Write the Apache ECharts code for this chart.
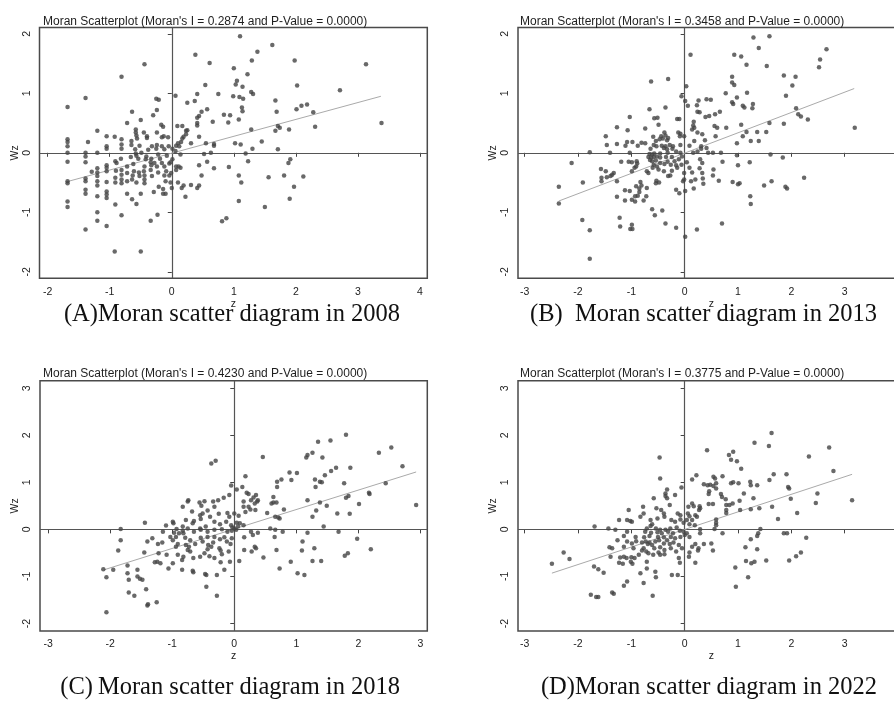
<!DOCTYPE html>
<html><head><meta charset="utf-8">
<script src="https://cdn.jsdelivr.net/npm/echarts/dist/echarts.min.js"></script>
<style>html,body{margin:0;padding:0;overflow:hidden;background:#fff}#c{width:912px;height:704px}</style>
</head><body><div id="c"></div><script>
// ---------- DATA ----------
var titlesTop = [
  "Moran Scatterplot (Moran's I = 0.2874 and P-Value = 0.0000)",
  "Moran Scatterplot (Moran's I = 0.3458 and P-Value = 0.0000)",
  "Moran Scatterplot (Moran's I = 0.4230 and P-Value = 0.0000)",
  "Moran Scatterplot (Moran's I = 0.3775 and P-Value = 0.0000)"
];
var captions = [
  "(A)Moran scatter diagram in 2008",
  "(B)\u2002Moran scatter diagram in 2013",
  "(C)\u2009Moran scatter diagram in 2018",
  "(D)Moran scatter diagram in 2022"
];
var xTicksA = [-2,-1,0,1,2,3,4];
var xTicksB = [-3,-2,-1,0,1,2,3,4];
var xTicksC = [-3,-2,-1,0,1,2,3];
var xTicksD = [-3,-2,-1,0,1,2,3,4];
var yTicksAB = [-2,-1,0,1,2];
var yTicksCD = [-2,-1,0,1,2,3];

var fitA = [[-1.67,-0.48],[3.37,0.95]];
var fitB = [[-2.36,-0.81],[3.18,1.08]];
var fitC = [[-2.10,-0.86],[2.93,1.22]];
var fitD = [[-2.49,-0.93],[3.14,1.17]];

var pointsA = [[1.10,1.96],[1.62,1.81],[0.38,1.65],[1.38,1.70],[-0.44,1.49],[0.61,1.51],[1.29,1.55],[1.98,1.55],[3.13,1.49],[-0.81,1.28],[1.00,1.42],[1.22,1.32],[1.05,1.21],[1.03,1.15],[0.54,1.14],[1.14,1.11],[2.02,1.13],[1.28,1.02],[1.31,0.99],[2.71,1.05],[-1.39,0.92],[-0.25,0.91],[-0.21,0.89],[0.06,0.96],[0.41,0.99],[0.75,0.99],[0.99,0.95],[1.09,0.94],[1.15,0.91],[1.67,0.88],[-1.68,0.77],[0.25,0.84],[0.37,0.87],[-0.24,0.72],[0.48,0.69],[0.57,0.73],[-0.64,0.69],[1.13,0.76],[1.14,0.70],[1.69,0.69],[2.01,0.73],[2.09,0.79],[2.18,0.81],[2.28,0.68],[0.84,0.64],[0.94,0.63],[-0.30,0.63],[0.44,0.62],[0.41,0.59],[-0.50,0.55],[1.08,0.56],[0.66,0.52],[0.91,0.51],[-0.72,0.50],[-0.17,0.47],[-0.14,0.44],[0.09,0.45],[0.17,0.45],[0.41,0.50],[0.41,0.46],[1.71,0.45],[2.31,0.44],[1.74,0.42],[3.38,0.50],[-1.20,0.37],[-0.58,0.39],[0.23,0.37],[0.25,0.38],[1.28,0.39],[1.67,0.37],[1.89,0.39],[-0.58,0.34],[-0.45,0.34],[-0.24,0.34],[-0.57,0.29],[-0.40,0.28],[-0.40,0.25],[0.23,0.31],[0.19,0.27],[0.44,0.27],[-1.05,0.28],[-0.92,0.27],[-0.16,0.26],[-0.13,0.28],[-0.06,0.26],[0.17,0.24],[-1.68,0.23],[-1.68,0.18],[-1.35,0.18],[-0.81,0.23],[-0.65,0.20],[-0.56,0.24],[0.15,0.18],[0.10,0.16],[0.31,0.16],[0.55,0.16],[0.68,0.15],[0.68,0.12],[1.02,0.16],[1.11,0.14],[1.45,0.19],[-1.68,0.11],[-1.05,0.11],[-0.81,0.14],[-0.65,0.13],[-0.52,0.12],[-0.32,0.11],[-0.24,0.13],[-0.16,0.11],[-0.05,0.11],[0.07,0.12],[0.12,0.11],[-1.05,0.07],[-0.81,0.07],[-0.59,0.06],[-0.38,0.05],[-0.25,0.07],[-0.12,0.06],[0.01,0.07],[0.06,0.03],[1.30,0.07],[1.71,0.06],[-1.68,0.00],[-1.39,0.00],[-1.20,0.00],[-0.58,-0.01],[-0.49,0.00],[0.52,-0.02],[0.63,0.00],[1.19,-0.01],[-1.39,-0.06],[-0.57,-0.05],[-0.41,-0.06],[-0.22,-0.03],[-0.08,-0.05],[0.14,-0.03],[-0.82,-0.10],[-0.66,-0.07],[-0.54,-0.10],[-0.42,-0.11],[-0.33,-0.10],[-0.19,-0.10],[0.01,-0.11],[0.57,-0.15],[1.23,-0.14],[-1.68,-0.15],[-1.39,-0.16],[-0.91,-0.14],[-0.89,-0.17],[-0.34,-0.16],[-0.28,-0.17],[-0.16,-0.17],[-0.04,-0.18],[-0.02,-0.16],[1.91,-0.11],[1.88,-0.17],[0.44,-0.21],[0.07,-0.23],[0.11,-0.23],[0.14,-0.25],[-0.62,-0.19],[-1.05,-0.21],[-1.05,-0.25],[-1.20,-0.26],[-0.72,-0.23],[-0.44,-0.23],[-0.33,-0.21],[-0.24,-0.23],[-0.12,-0.23],[0.92,-0.24],[0.68,-0.26],[0.07,-0.29],[-1.29,-0.32],[-1.20,-0.33],[-1.05,-0.31],[-0.90,-0.30],[-0.81,-0.29],[-0.72,-0.34],[-0.61,-0.31],[-0.53,-0.33],[-0.45,-0.31],[-0.34,-0.29],[-0.22,-0.33],[-0.09,-0.31],[-0.01,-0.34],[-1.20,-0.39],[-0.91,-0.42],[-0.81,-0.37],[-0.63,-0.38],[-0.52,-0.39],[-0.44,-0.38],[-0.32,-0.39],[-0.12,-0.38],[-0.04,-0.38],[0.48,-0.38],[1.08,-0.38],[1.56,-0.41],[1.81,-0.38],[2.12,-0.40],[-1.39,-0.43],[-1.39,-0.48],[-1.68,-0.48],[-1.68,-0.51],[-1.20,-0.48],[-1.05,-0.49],[-0.91,-0.50],[-0.81,-0.45],[-0.81,-0.51],[-0.72,-0.48],[-0.64,-0.45],[-0.57,-0.50],[-0.44,-0.45],[-0.44,-0.51],[-0.10,-0.48],[-0.02,-0.50],[0.10,-0.50],[0.44,-0.55],[0.31,-0.54],[1.12,-0.50],[-1.20,-0.55],[0.00,-0.59],[0.16,-0.59],[0.19,-0.55],[0.41,-0.59],[-0.21,-0.57],[-0.14,-0.61],[-1.05,-0.65],[-1.39,-0.62],[-1.39,-0.69],[-0.72,-0.69],[-1.05,-0.70],[-1.05,-0.76],[-1.20,-0.73],[-0.29,-0.66],[-0.50,-0.69],[-0.14,-0.69],[-0.10,-0.69],[0.22,-0.74],[-0.64,-0.78],[-0.57,-0.86],[-0.91,-0.87],[-1.68,-0.82],[-1.68,-0.91],[1.08,-0.81],[1.90,-0.77],[1.50,-0.91],[-1.20,-1.00],[-0.81,-1.05],[-0.23,-1.04],[-1.20,-1.14],[-0.34,-1.14],[0.81,-1.15],[0.88,-1.10],[-1.05,-1.23],[-1.39,-1.29],[-0.92,-1.66],[-0.50,-1.66],[1.97,-0.57]];

var pointsB = [[1.29,1.94],[1.59,1.96],[1.39,1.76],[2.66,1.74],[0.11,1.65],[0.93,1.65],[1.06,1.62],[2.54,1.57],[1.16,1.48],[1.54,1.46],[2.52,1.44],[0.89,1.28],[1.86,1.30],[2.08,1.28],[-0.31,1.24],[-0.63,1.20],[0.89,1.18],[0.93,1.14],[0.03,1.12],[2.02,1.13],[1.17,1.01],[0.77,1.00],[0.98,0.93],[1.90,0.96],[-0.06,0.95],[0.01,0.87],[0.41,0.90],[0.49,0.89],[0.26,0.88],[0.89,0.85],[0.91,0.82],[0.06,0.79],[0.23,0.80],[1.28,0.82],[1.09,0.79],[1.12,0.76],[1.27,0.75],[2.09,0.75],[-0.66,0.73],[-0.36,0.76],[0.24,0.69],[0.28,0.68],[0.57,0.65],[0.66,0.69],[2.13,0.65],[2.18,0.61],[2.31,0.56],[0.46,0.62],[0.39,0.60],[-1.03,0.60],[-0.57,0.58],[-0.51,0.59],[-0.10,0.57],[-0.14,0.57],[0.17,0.52],[0.16,0.46],[-0.49,0.47],[0.18,0.42],[0.14,0.39],[0.56,0.45],[0.61,0.42],[1.06,0.47],[1.59,0.50],[1.86,0.49],[0.78,0.42],[3.19,0.42],[-1.27,0.43],[-0.74,0.41],[-1.07,0.38],[0.24,0.34],[0.33,0.31],[-0.38,0.34],[-0.36,0.29],[-0.12,0.34],[-0.08,0.32],[0.58,0.28],[1.16,0.35],[1.36,0.35],[1.53,0.35],[-1.48,0.28],[-0.44,0.28],[-0.09,0.28],[-0.01,0.28],[1.09,0.28],[-0.59,0.27],[-0.31,0.25],[-0.54,0.20],[-0.41,0.24],[-0.47,0.23],[-0.33,0.21],[0.18,0.20],[0.38,0.21],[1.24,0.20],[1.39,0.20],[-1.08,0.18],[-0.98,0.18],[-0.88,0.12],[-0.81,0.17],[-0.74,0.16],[-1.46,0.13],[-1.27,0.15],[-1.11,0.12],[-0.58,0.13],[-0.53,0.11],[-0.43,0.12],[-0.36,0.11],[-0.28,0.13],[-0.22,0.11],[-0.08,0.13],[0.09,0.12],[0.31,0.11],[0.98,0.16],[-0.39,0.08],[-0.33,0.06],[-0.23,0.07],[0.31,0.07],[0.41,0.08],[-0.64,0.07],[-1.78,0.01],[-1.40,0.00],[-1.03,0.00],[-0.66,-0.02],[-0.61,-0.03],[-0.57,-0.01],[-0.46,-0.01],[-0.32,0.00],[-0.16,0.02],[-0.08,0.00],[0.16,0.00],[0.24,0.02],[0.44,0.00],[0.53,0.00],[0.68,0.00],[0.98,-0.04],[1.61,-0.03],[1.84,-0.08],[-0.68,-0.07],[-0.63,-0.08],[-0.58,-0.07],[-0.52,-0.06],[-0.46,-0.08],[-0.35,-0.07],[-0.24,-0.07],[-0.05,-0.06],[0.29,-0.11],[-0.65,-0.12],[-0.61,-0.14],[-0.54,-0.13],[-0.46,-0.17],[-0.90,-0.14],[-0.99,-0.16],[-0.32,-0.15],[-0.19,-0.14],[-0.11,-0.11],[0.04,-0.16],[0.33,-0.17],[0.71,-0.15],[1.22,-0.16],[-0.89,-0.18],[-0.58,-0.20],[-0.52,-0.23],[-0.60,-0.25],[-0.38,-0.19],[-0.26,-0.20],[-0.16,-0.21],[-0.06,-0.20],[1.00,-0.21],[-0.91,-0.23],[-0.94,-0.25],[-1.57,-0.27],[-0.99,-0.31],[-0.71,-0.31],[-0.49,-0.28],[-0.39,-0.31],[-0.24,-0.30],[-0.14,-0.25],[0.09,-0.25],[0.28,-0.26],[0.54,-0.28],[0.14,-0.33],[-1.48,-0.31],[-1.33,-0.34],[-1.36,-0.37],[-1.39,-0.39],[0.33,-0.34],[0.53,-0.38],[-0.68,-0.34],[-0.01,-0.34],[-1.56,-0.42],[-1.46,-0.41],[-0.31,-0.39],[-0.27,-0.38],[0.34,-0.43],[2.24,-0.42],[-1.56,-0.48],[-1.27,-0.48],[-0.53,-0.47],[-0.48,-0.50],[-0.01,-0.45],[-0.03,-0.48],[0.12,-0.48],[0.20,-0.45],[0.64,-0.47],[0.35,-0.52],[0.90,-0.49],[1.03,-0.51],[1.00,-0.53],[1.63,-0.48],[1.49,-0.55],[-0.54,-0.51],[-1.91,-0.50],[-2.36,-0.57],[-0.83,-0.49],[-0.81,-0.55],[-0.91,-0.56],[-0.85,-0.60],[1.89,-0.57],[1.92,-0.60],[0.17,-0.60],[-0.71,-0.59],[-1.12,-0.63],[-1.03,-0.64],[-0.16,-0.62],[0.01,-0.64],[-0.85,-0.66],[-0.10,-0.68],[-1.27,-0.74],[-0.93,-0.73],[-0.88,-0.72],[-0.72,-0.73],[-0.93,-0.82],[-1.12,-0.80],[-0.77,-0.80],[-0.99,-0.79],[-2.36,-0.85],[1.23,-0.73],[1.24,-0.86],[-0.61,-0.95],[-0.42,-0.97],[-0.56,-1.05],[-1.92,-1.13],[-1.22,-1.09],[-0.99,-1.21],[-1.02,-1.28],[-0.98,-1.28],[-1.21,-1.24],[-0.36,-1.19],[-0.16,-1.26],[0.23,-1.29],[0.70,-1.19],[0.01,-1.41],[-1.78,-1.30],[-1.78,-1.78],[-2.12,-0.17],[-1.19,-0.15],[-1.05,-0.15]];

var pointsC = [[1.80,2.01],[1.55,1.89],[1.35,1.86],[2.53,1.74],[2.33,1.63],[1.26,1.63],[1.18,1.58],[1.16,1.53],[1.42,1.53],[0.46,1.54],[-0.30,1.46],[-0.37,1.40],[1.87,1.31],[1.64,1.31],[2.71,1.34],[1.56,1.24],[1.46,1.15],[1.30,1.06],[0.89,1.21],[1.01,1.20],[0.18,1.13],[1.38,1.01],[1.41,1.00],[0.69,1.01],[0.76,1.06],[0.92,1.05],[1.77,0.98],[2.44,0.98],[1.31,0.90],[0.69,0.90],[-0.05,0.93],[0.13,0.90],[0.04,0.85],[2.17,0.78],[2.18,0.75],[-0.17,0.67],[-0.34,0.59],[-0.26,0.62],[-0.08,0.73],[0.20,0.78],[0.23,0.75],[0.35,0.73],[0.31,0.68],[0.27,0.62],[-0.74,0.62],[-0.75,0.59],[-0.56,0.57],[-0.48,0.60],[-0.83,0.48],[-0.68,0.38],[-0.32,0.48],[0.23,0.48],[0.33,0.55],[0.37,0.59],[0.38,0.62],[0.63,0.69],[0.63,0.57],[0.60,0.55],[0.68,0.57],[1.18,0.62],[1.84,0.71],[1.80,0.67],[2.01,0.54],[2.93,0.52],[1.49,0.50],[1.38,0.57],[1.32,0.40],[1.66,0.34],[1.86,0.33],[1.26,0.27],[1.44,0.06],[0.15,0.59],[0.15,0.48],[0.18,0.37],[0.26,0.42],[0.34,0.41],[0.53,0.35],[0.66,0.27],[0.71,0.25],[0.73,0.23],[0.80,0.42],[-0.53,0.50],[-0.43,0.40],[-0.51,0.34],[-0.55,0.30],[-0.39,0.27],[-0.25,0.33],[-0.11,0.35],[-0.08,0.27],[0.00,0.34],[0.07,0.29],[0.04,0.14],[0.09,0.13],[0.15,0.09],[-0.05,0.09],[-0.03,0.04],[0.00,0.02],[0.03,-0.01],[-0.04,-0.03],[0.06,0.06],[-0.99,0.16],[-0.98,0.13],[-1.44,0.14],[-1.10,0.08],[-0.78,0.20],[-0.65,0.18],[-0.54,0.22],[-0.67,0.13],[-0.32,0.16],[-0.23,0.11],[-0.13,0.16],[-0.83,0.06],[-0.75,0.02],[-0.93,0.01],[-0.83,-0.03],[-1.83,0.01],[-1.15,-0.05],[-0.97,-0.07],[-0.89,-0.08],[-0.82,-0.08],[-0.65,-0.05],[-0.54,-0.01],[-0.43,-0.05],[-0.32,-0.01],[-0.20,0.00],[-0.11,-0.05],[0.27,-0.05],[0.38,-0.07],[0.58,0.02],[0.66,-0.01],[0.78,-0.05],[0.65,-0.16],[1.18,-0.07],[1.68,-0.05],[-1.83,-0.23],[-1.87,-0.45],[-1.40,-0.26],[-1.32,-0.19],[-1.03,-0.16],[-0.99,-0.23],[-0.94,-0.16],[-0.79,-0.18],[-0.71,-0.23],[-0.54,-0.18],[-0.43,-0.16],[-0.32,-0.16],[-0.23,-0.21],[-0.16,-0.17],[-0.04,-0.19],[0.16,-0.17],[0.30,-0.12],[-1.23,-0.31],[-1.16,-0.28],[-0.91,-0.31],[-0.78,-0.33],[-0.73,-0.37],[-0.63,-0.31],[-0.51,-0.26],[-0.42,-0.33],[-0.34,-0.28],[-0.12,-0.26],[-0.06,-0.31],[-0.94,-0.37],[-0.75,-0.44],[-0.71,-0.47],[-0.43,-0.42],[-0.37,-0.37],[-0.24,-0.40],[-0.22,-0.45],[0.16,-0.44],[0.33,-0.37],[0.35,-0.40],[0.28,-0.47],[0.68,-0.44],[1.29,-0.40],[2.20,-0.42],[1.98,-0.20],[1.10,-0.26],[1.09,-0.45],[-1.45,-0.49],[-1.22,-0.51],[-1.09,-0.54],[-0.91,-0.54],[-0.82,-0.58],[-0.66,-0.61],[-0.55,-0.58],[-0.48,-0.51],[-0.40,-0.57],[-0.32,-0.61],[-0.20,-0.53],[-0.09,-0.47],[1.83,-0.51],[1.78,-0.56],[-1.24,-0.69],[-1.19,-0.72],[-1.28,-0.70],[-0.99,-0.72],[-0.84,-0.65],[-0.22,-0.70],[-0.07,-0.69],[0.08,-0.67],[0.47,-0.60],[0.91,-0.69],[1.26,-0.67],[1.40,-0.67],[-1.72,-0.77],[-1.95,-0.86],[-2.11,-0.85],[-1.56,-0.86],[-1.06,-0.83],[-0.84,-0.86],[-0.67,-0.88],[-0.66,-0.91],[-0.47,-0.95],[-0.45,-0.97],[-0.28,-0.97],[-0.16,-0.86],[0.73,-0.83],[1.02,-0.93],[1.13,-0.97],[-1.72,-0.93],[-2.06,-1.02],[-1.56,-1.00],[-1.52,-1.05],[-1.48,-1.07],[-1.70,-1.07],[-0.45,-1.22],[-1.42,-1.27],[-1.70,-1.34],[-1.61,-1.41],[-0.28,-1.41],[-1.39,-1.59],[-1.40,-1.62],[-1.25,-1.55],[-2.06,-1.76],[-0.55,0.02],[-0.46,0.06]];

var pointsD = [[1.63,2.05],[1.31,1.84],[1.58,1.77],[2.71,1.74],[0.42,1.68],[0.91,1.65],[0.83,1.58],[0.87,1.48],[0.98,1.45],[-0.47,1.53],[2.33,1.55],[1.06,1.29],[2.79,1.24],[1.67,1.17],[1.91,1.17],[0.22,1.15],[0.54,1.12],[0.71,1.13],[-0.46,1.08],[1.59,1.05],[0.14,1.06],[0.57,1.08],[0.59,0.98],[0.87,0.98],[0.91,1.00],[1.01,0.98],[0.36,0.96],[0.43,0.94],[0.48,0.95],[1.23,1.01],[1.24,0.94],[1.36,0.94],[0.54,0.92],[0.59,0.87],[-0.06,0.89],[-0.33,0.85],[1.94,0.90],[1.96,0.87],[0.68,0.75],[0.46,0.81],[0.45,0.75],[0.70,0.69],[-0.36,0.76],[-0.36,0.71],[-0.18,0.73],[-0.33,0.66],[2.49,0.76],[1.99,0.65],[1.11,0.76],[0.77,0.64],[1.03,0.61],[1.29,0.66],[3.14,0.62],[2.46,0.56],[0.45,0.54],[0.53,0.54],[0.78,0.52],[0.84,0.52],[0.90,0.55],[-0.58,0.66],[-0.28,0.52],[-0.78,0.48],[0.14,0.55],[0.17,0.49],[0.07,0.48],[0.28,0.49],[0.29,0.45],[0.27,0.41],[0.78,0.41],[1.04,0.41],[1.24,0.43],[1.40,0.45],[1.64,0.48],[2.11,0.35],[-1.05,0.41],[-0.53,0.45],[-0.44,0.41],[-0.77,0.34],[-0.39,0.34],[-0.13,0.34],[-0.08,0.30],[0.06,0.34],[0.09,0.28],[0.20,0.30],[0.23,0.27],[0.14,0.20],[0.04,0.20],[-0.08,0.21],[0.78,0.35],[1.75,0.22],[-0.83,0.27],[-1.23,0.20],[-1.08,0.20],[-1.02,0.18],[-0.99,0.16],[-0.64,0.20],[-0.51,0.23],[-0.38,0.27],[-0.25,0.20],[-0.18,0.16],[-0.02,0.14],[0.09,0.11],[0.19,0.09],[0.59,0.21],[0.59,0.14],[-1.69,0.06],[-1.43,0.02],[-1.30,-0.01],[-1.08,-0.05],[-0.64,0.07],[-0.61,0.11],[-0.71,0.02],[-0.54,0.02],[-0.46,-0.01],[-0.36,-0.01],[-0.27,0.02],[-0.15,0.04],[-0.09,-0.03],[-0.02,-0.05],[0.29,0.00],[0.56,0.01],[0.59,0.09],[1.42,0.01],[1.86,-0.08],[-0.74,-0.05],[-0.63,-0.07],[-0.51,-0.06],[-0.43,-0.08],[-0.31,-0.05],[-0.22,-0.08],[0.04,-0.08],[0.29,-0.08],[0.71,-0.08],[1.38,-0.08],[-1.14,-0.14],[-0.92,-0.16],[-0.76,-0.17],[-0.66,-0.14],[-0.50,-0.16],[-0.39,-0.17],[-0.33,-0.23],[-0.26,-0.16],[-0.18,-0.19],[-0.08,-0.16],[0.00,-0.12],[0.09,-0.16],[1.24,-0.21],[2.28,-0.18],[1.92,-0.08],[1.36,-0.14],[-1.26,-0.23],[-1.08,-0.26],[-0.99,-0.30],[-0.91,-0.25],[-0.80,-0.28],[-0.73,-0.26],[-0.69,-0.31],[-0.66,-0.28],[-0.61,-0.33],[-0.55,-0.26],[-0.48,-0.23],[-0.39,-0.30],[-0.28,-0.31],[-0.21,-0.28],[-0.11,-0.33],[0.20,-0.31],[0.36,-0.31],[0.50,-0.30],[-1.41,-0.38],[-1.36,-0.40],[-1.14,-0.37],[-0.96,-0.40],[-0.77,-0.40],[-0.57,-0.40],[-0.46,-0.38],[-0.38,-0.44],[-0.26,-0.40],[-0.05,-0.40],[0.14,-0.37],[0.26,-0.40],[0.53,-0.45],[1.14,-0.38],[1.36,-0.42],[-0.80,-0.45],[-0.72,-0.47],[-0.49,-0.49],[-0.16,-0.47],[0.09,-0.49],[0.25,-0.45],[2.18,-0.49],[-1.39,-0.58],[-1.14,-0.58],[-1.21,-0.60],[-1.09,-0.61],[-1.00,-0.59],[-0.94,-0.61],[-0.86,-0.54],[-0.68,-0.51],[-0.59,-0.54],[-0.46,-0.54],[-0.38,-0.53],[-0.11,-0.61],[0.08,-0.58],[2.09,-0.57],[1.15,-0.67],[1.25,-0.72],[1.31,-0.69],[1.53,-0.66],[1.96,-0.66],[-2.49,-0.73],[-2.27,-0.49],[-2.16,-0.63],[-1.23,-0.71],[-1.16,-0.73],[-1.01,-0.69],[-0.98,-0.73],[-0.71,-0.69],[-0.09,-0.71],[0.20,-0.71],[-1.70,-0.79],[-1.62,-0.85],[-1.52,-0.92],[-0.71,-0.83],[-0.83,-0.93],[-0.55,-0.90],[-0.54,-1.02],[-0.24,-0.97],[-0.13,-0.97],[0.95,-0.81],[1.19,-1.02],[-1.08,-1.11],[-1.14,-1.20],[-1.36,-1.34],[-1.33,-1.37],[-0.77,-1.14],[0.96,-1.22],[-0.60,-1.41],[-1.76,-1.39],[-1.66,-1.44],[-1.62,-1.44]];

// ---------- LAYOUT ----------
var panels = [
  {pts: pointsA, fit: fitA, xt: xTicksA, yt: yTicksAB, xr: [-2.132, 4.118], yr: [-2.109, 2.106],
   rect: {left: 39.5, top: 27.5, width: 387.8, height: 250.8}, titleXY: [43, 21.5], capXY: [400, 314.5]},
  {pts: pointsB, fit: fitB, xt: xTicksB, yt: yTicksAB, xr: [-3.126, 4.125], yr: [-2.109, 2.106],
   rect: {left: 518, top: 27.5, width: 386.6, height: 250.8}, titleXY: [520, 21.5], capXY: [877, 314.5]},
  {pts: pointsC, fit: fitC, xt: xTicksC, yt: yTicksCD, xr: [-3.13, 3.11], yr: [-2.16, 3.16],
   rect: {left: 40, top: 380.7, width: 387.3, height: 250.3}, titleXY: [43, 373.5], capXY: [400, 687.5]},
  {pts: pointsD, fit: fitD, xt: xTicksD, yt: yTicksCD, xr: [-3.126, 4.125], yr: [-2.16, 3.16],
   rect: {left: 518, top: 380.7, width: 386.6, height: 250.3}, titleXY: [520, 373.5], capXY: [877, 687.5]}
];

var tickFont = "'Liberation Sans Narrow', 'Liberation Sans', Arial, sans-serif";
var grids = [], xAxes = [], yAxes = [], series = [], graphics = [];
panels.forEach(function (p, i) {
  grids.push(Object.assign({show: true, borderColor: '#4a4a4a', borderWidth: 1.5, backgroundColor: '#fff'}, p.rect));
  xAxes.push({
    type: 'value', gridIndex: i, min: p.xr[0], max: p.xr[1],
    axisLine: {show: false}, splitLine: {show: false},
    axisTick: {show: true, length: 4, customValues: p.xt, lineStyle: {color: '#444', width: 1}},
    axisLabel: {customValues: p.xt, fontSize: 10.5, color: '#222', margin: 8, fontFamily: tickFont},
    name: 'z', nameLocation: 'middle', nameGap: 19,
    nameTextStyle: {fontSize: 10.5, color: '#222', fontFamily: tickFont}
  });
  yAxes.push({
    type: 'value', gridIndex: i, min: p.yr[0], max: p.yr[1],
    axisLine: {show: false}, splitLine: {show: false},
    axisTick: {show: true, length: 4, customValues: p.yt, lineStyle: {color: '#444', width: 1}},
    axisLabel: {customValues: p.yt, fontSize: 10.5, color: '#222', margin: 7, rotate: 90, fontFamily: tickFont},
    name: 'Wz', nameLocation: 'middle', nameGap: 19,
    nameTextStyle: {fontSize: 10.5, color: '#222', fontFamily: tickFont}
  });
  series.push({
    type: 'scatter', xAxisIndex: i, yAxisIndex: i, data: p.pts,
    symbolSize: 4.5, itemStyle: {color: '#444'}, z: 3,
    markLine: {
      silent: true, symbol: ['none', 'none'], label: {show: false}, z: 1,
      lineStyle: {color: '#555', width: 1.2, type: 'solid'},
      data: [{xAxis: 0}, {yAxis: 0}]
    }
  });
  series.push({
    type: 'line', xAxisIndex: i, yAxisIndex: i, data: p.fit, showSymbol: false,
    lineStyle: {color: '#aaaaaa', width: 1}, z: 2
  });
  graphics.push({type: 'text', x: p.titleXY[0], y: p.titleXY[1],
    style: {text: titlesTop[i], fontSize: 12, fontFamily: "'Liberation Sans', Arial, sans-serif",
      fill: '#1e1e1e', align: 'left', verticalAlign: 'middle'}});
  graphics.push({type: 'text', x: p.capXY[0], y: p.capXY[1],
    style: {text: captions[i], fontSize: 24.5, fontFamily: "'Liberation Serif', 'Times New Roman', serif",
      fill: '#111', align: 'right', verticalAlign: 'middle'}});
});

var chart = echarts.init(document.getElementById('c'), null, {renderer: 'canvas'});
chart.setOption({
  animation: false,
  backgroundColor: '#fff',
  grid: grids, xAxis: xAxes, yAxis: yAxes, series: series, graphic: graphics
});
</script></body></html>
